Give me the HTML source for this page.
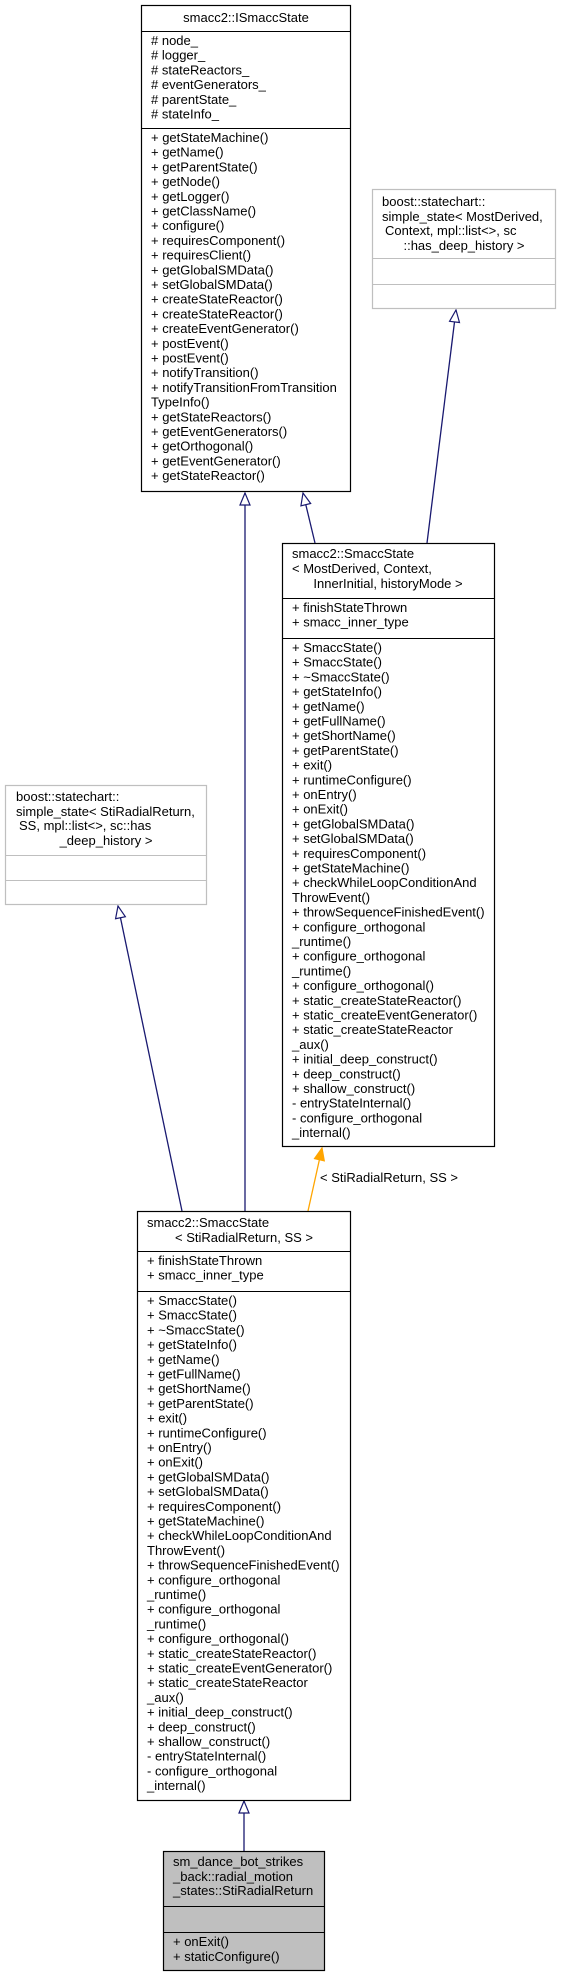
<!DOCTYPE html>
<html><head><meta charset="utf-8"><style>
html,body{margin:0;padding:0;background:#fff;}
svg{display:block;}
text{font-family:"Liberation Sans",Arial,sans-serif;font-size:13px;fill:#000;}
</style></head><body>
<svg width="562" height="1977" viewBox="0 0 562 1977" xmlns="http://www.w3.org/2000/svg">
<defs>
<marker id="nav" markerUnits="userSpaceOnUse" markerWidth="14" markerHeight="12" refX="13" refY="6" orient="auto">
<path d="M1,1 L13,6 L1,11 Z" fill="#fff" stroke="#191970" stroke-width="1.2"/>
</marker>
<marker id="org" markerUnits="userSpaceOnUse" markerWidth="14" markerHeight="12" refX="13" refY="6" orient="auto">
<path d="M1,1 L13,6 L1,11 Z" fill="#ffa500" stroke="#ffa500" stroke-width="1.2"/>
</marker>
</defs>

<!-- connectors -->
<line x1="245" y1="1211" x2="245" y2="493" stroke="#191970" stroke-width="1.3" marker-end="url(#nav)"/>
<line x1="315" y1="543" x2="303" y2="493" stroke="#191970" stroke-width="1.3" marker-end="url(#nav)"/>
<line x1="427" y1="543" x2="456" y2="310" stroke="#191970" stroke-width="1.3" marker-end="url(#nav)"/>
<line x1="182" y1="1211" x2="118" y2="906" stroke="#191970" stroke-width="1.3" marker-end="url(#nav)"/>
<line x1="244" y1="1851" x2="244" y2="1801" stroke="#191970" stroke-width="1.3" marker-end="url(#nav)"/>
<line x1="308" y1="1211" x2="322" y2="1148" stroke="#ffa500" stroke-width="1.3" marker-end="url(#org)"/>
<text x="320" y="1182">&lt; StiRadialReturn, SS &gt;</text>

<!-- ISmaccState -->
<rect x="141.5" y="5.5" width="209" height="486" fill="#fff" stroke="#000" stroke-width="1.2"/>
<line x1="141" y1="31.5" x2="351" y2="31.5" stroke="#000"/>
<line x1="141" y1="128.5" x2="351" y2="128.5" stroke="#000"/>
<text x="246" y="22" text-anchor="middle">smacc2::ISmaccState</text>
<text><tspan x="151" y="45"># node_</tspan><tspan x="151" dy="14.7"># logger_</tspan><tspan x="151" dy="14.7"># stateReactors_</tspan><tspan x="151" dy="14.7"># eventGenerators_</tspan><tspan x="151" dy="14.7"># parentState_</tspan><tspan x="151" dy="14.7"># stateInfo_</tspan></text>
<text><tspan x="151" y="142">+ getStateMachine()</tspan><tspan x="151" dy="14.7">+ getName()</tspan><tspan x="151" dy="14.7">+ getParentState()</tspan><tspan x="151" dy="14.7">+ getNode()</tspan><tspan x="151" dy="14.7">+ getLogger()</tspan><tspan x="151" dy="14.7">+ getClassName()</tspan><tspan x="151" dy="14.7">+ configure()</tspan><tspan x="151" dy="14.7">+ requiresComponent()</tspan><tspan x="151" dy="14.7">+ requiresClient()</tspan><tspan x="151" dy="14.7">+ getGlobalSMData()</tspan><tspan x="151" dy="14.7">+ setGlobalSMData()</tspan><tspan x="151" dy="14.7">+ createStateReactor()</tspan><tspan x="151" dy="14.7">+ createStateReactor()</tspan><tspan x="151" dy="14.7">+ createEventGenerator()</tspan><tspan x="151" dy="14.7">+ postEvent()</tspan><tspan x="151" dy="14.7">+ postEvent()</tspan><tspan x="151" dy="14.7">+ notifyTransition()</tspan><tspan x="151" dy="14.7">+ notifyTransitionFromTransition</tspan><tspan x="151" dy="14.7">TypeInfo()</tspan><tspan x="151" dy="14.7">+ getStateReactors()</tspan><tspan x="151" dy="14.7">+ getEventGenerators()</tspan><tspan x="151" dy="14.7">+ getOrthogonal()</tspan><tspan x="151" dy="14.7">+ getEventGenerator()</tspan><tspan x="151" dy="14.7">+ getStateReactor()</tspan></text>

<!-- right boost -->
<rect x="372.5" y="189.5" width="183" height="119" fill="#fff" stroke="#bfbfbf" stroke-width="1.2"/>
<line x1="372" y1="258.5" x2="556" y2="258.5" stroke="#bfbfbf"/>
<line x1="372" y1="284.5" x2="556" y2="284.5" stroke="#bfbfbf"/>
<text x="382" y="206">boost::statechart::</text>
<text x="382" y="221">simple_state&lt; MostDerived,</text>
<text x="385" y="235">Context, mpl::list&lt;&gt;, sc</text>
<text x="464" y="250" text-anchor="middle">::has_deep_history &gt;</text>

<!-- generic SmaccState -->
<rect x="282.5" y="543.5" width="212" height="603" fill="#fff" stroke="#000" stroke-width="1.2"/>
<line x1="282" y1="598.5" x2="495" y2="598.5" stroke="#000"/>
<line x1="282" y1="638.5" x2="495" y2="638.5" stroke="#000"/>
<text x="292" y="558">smacc2::SmaccState</text>
<text x="292" y="573">&lt; MostDerived, Context,</text>
<text x="388" y="588" text-anchor="middle">InnerInitial, historyMode &gt;</text>
<text><tspan x="292" y="612">+ finishStateThrown</tspan><tspan x="292" dy="14.7">+ smacc_inner_type</tspan></text>
<text><tspan x="292" y="652">+ SmaccState()</tspan><tspan x="292" dy="14.7">+ SmaccState()</tspan><tspan x="292" dy="14.7">+ ~SmaccState()</tspan><tspan x="292" dy="14.7">+ getStateInfo()</tspan><tspan x="292" dy="14.7">+ getName()</tspan><tspan x="292" dy="14.7">+ getFullName()</tspan><tspan x="292" dy="14.7">+ getShortName()</tspan><tspan x="292" dy="14.7">+ getParentState()</tspan><tspan x="292" dy="14.7">+ exit()</tspan><tspan x="292" dy="14.7">+ runtimeConfigure()</tspan><tspan x="292" dy="14.7">+ onEntry()</tspan><tspan x="292" dy="14.7">+ onExit()</tspan><tspan x="292" dy="14.7">+ getGlobalSMData()</tspan><tspan x="292" dy="14.7">+ setGlobalSMData()</tspan><tspan x="292" dy="14.7">+ requiresComponent()</tspan><tspan x="292" dy="14.7">+ getStateMachine()</tspan><tspan x="292" dy="14.7">+ checkWhileLoopConditionAnd</tspan><tspan x="292" dy="14.7">ThrowEvent()</tspan><tspan x="292" dy="14.7">+ throwSequenceFinishedEvent()</tspan><tspan x="292" dy="14.7">+ configure_orthogonal</tspan><tspan x="292" dy="14.7">_runtime()</tspan><tspan x="292" dy="14.7">+ configure_orthogonal</tspan><tspan x="292" dy="14.7">_runtime()</tspan><tspan x="292" dy="14.7">+ configure_orthogonal()</tspan><tspan x="292" dy="14.7">+ static_createStateReactor()</tspan><tspan x="292" dy="14.7">+ static_createEventGenerator()</tspan><tspan x="292" dy="14.7">+ static_createStateReactor</tspan><tspan x="292" dy="14.7">_aux()</tspan><tspan x="292" dy="14.7">+ initial_deep_construct()</tspan><tspan x="292" dy="14.7">+ deep_construct()</tspan><tspan x="292" dy="14.7">+ shallow_construct()</tspan><tspan x="292" dy="14.7">- entryStateInternal()</tspan><tspan x="292" dy="14.7">- configure_orthogonal</tspan><tspan x="292" dy="14.7">_internal()</tspan></text>

<!-- left boost -->
<rect x="5.5" y="785.5" width="201" height="119" fill="#fff" stroke="#bfbfbf" stroke-width="1.2"/>
<line x1="5" y1="855.5" x2="207" y2="855.5" stroke="#bfbfbf"/>
<line x1="5" y1="880.5" x2="207" y2="880.5" stroke="#bfbfbf"/>
<text x="16" y="801">boost::statechart::</text>
<text x="16" y="816">simple_state&lt; StiRadialReturn,</text>
<text x="19" y="830">SS, mpl::list&lt;&gt;, sc::has</text>
<text x="106" y="845" text-anchor="middle">_deep_history &gt;</text>

<!-- SmaccState<StiRadialReturn, SS> -->
<rect x="137.5" y="1211.5" width="213" height="589" fill="#fff" stroke="#000" stroke-width="1.2"/>
<line x1="137" y1="1251.5" x2="351" y2="1251.5" stroke="#000"/>
<line x1="137" y1="1291.5" x2="351" y2="1291.5" stroke="#000"/>
<text x="147" y="1227">smacc2::SmaccState</text>
<text x="244" y="1242" text-anchor="middle">&lt; StiRadialReturn, SS &gt;</text>
<text><tspan x="147" y="1265">+ finishStateThrown</tspan><tspan x="147" dy="14.7">+ smacc_inner_type</tspan></text>
<text><tspan x="147" y="1305">+ SmaccState()</tspan><tspan x="147" dy="14.7">+ SmaccState()</tspan><tspan x="147" dy="14.7">+ ~SmaccState()</tspan><tspan x="147" dy="14.7">+ getStateInfo()</tspan><tspan x="147" dy="14.7">+ getName()</tspan><tspan x="147" dy="14.7">+ getFullName()</tspan><tspan x="147" dy="14.7">+ getShortName()</tspan><tspan x="147" dy="14.7">+ getParentState()</tspan><tspan x="147" dy="14.7">+ exit()</tspan><tspan x="147" dy="14.7">+ runtimeConfigure()</tspan><tspan x="147" dy="14.7">+ onEntry()</tspan><tspan x="147" dy="14.7">+ onExit()</tspan><tspan x="147" dy="14.7">+ getGlobalSMData()</tspan><tspan x="147" dy="14.7">+ setGlobalSMData()</tspan><tspan x="147" dy="14.7">+ requiresComponent()</tspan><tspan x="147" dy="14.7">+ getStateMachine()</tspan><tspan x="147" dy="14.7">+ checkWhileLoopConditionAnd</tspan><tspan x="147" dy="14.7">ThrowEvent()</tspan><tspan x="147" dy="14.7">+ throwSequenceFinishedEvent()</tspan><tspan x="147" dy="14.7">+ configure_orthogonal</tspan><tspan x="147" dy="14.7">_runtime()</tspan><tspan x="147" dy="14.7">+ configure_orthogonal</tspan><tspan x="147" dy="14.7">_runtime()</tspan><tspan x="147" dy="14.7">+ configure_orthogonal()</tspan><tspan x="147" dy="14.7">+ static_createStateReactor()</tspan><tspan x="147" dy="14.7">+ static_createEventGenerator()</tspan><tspan x="147" dy="14.7">+ static_createStateReactor</tspan><tspan x="147" dy="14.7">_aux()</tspan><tspan x="147" dy="14.7">+ initial_deep_construct()</tspan><tspan x="147" dy="14.7">+ deep_construct()</tspan><tspan x="147" dy="14.7">+ shallow_construct()</tspan><tspan x="147" dy="14.7">- entryStateInternal()</tspan><tspan x="147" dy="14.7">- configure_orthogonal</tspan><tspan x="147" dy="14.7">_internal()</tspan></text>

<!-- StiRadialReturn -->
<rect x="163.5" y="1851.5" width="161" height="119" fill="#bfbfbf" stroke="#000" stroke-width="1.2"/>
<line x1="163" y1="1906.5" x2="325" y2="1906.5" stroke="#000"/>
<line x1="163" y1="1932.5" x2="325" y2="1932.5" stroke="#000"/>
<text x="173" y="1866">sm_dance_bot_strikes</text>
<text x="173" y="1881">_back::radial_motion</text>
<text x="173" y="1895">_states::StiRadialReturn</text>
<text x="173" y="1946">+ onExit()</text>
<text x="173" y="1961">+ staticConfigure()</text>
</svg>
</body></html>
